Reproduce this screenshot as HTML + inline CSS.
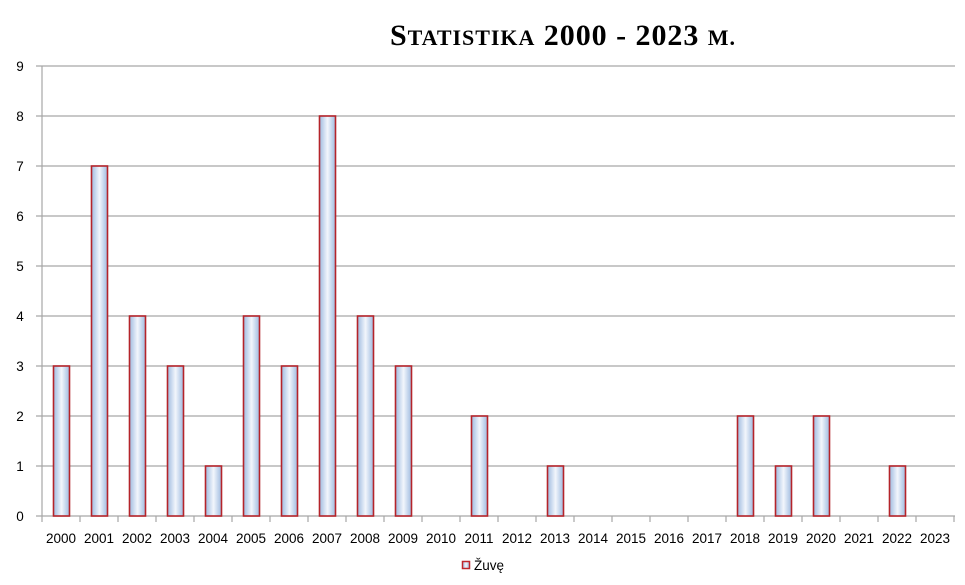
<!DOCTYPE html>
<html><head><meta charset="utf-8"><style>body{margin:0;background:#fff}svg{display:block}</style></head><body>
<svg width="965" height="585" xmlns="http://www.w3.org/2000/svg" font-family="Liberation Sans, sans-serif">
<defs>
<linearGradient id="g" x1="0" x2="1" y1="0" y2="0">
<stop offset="0" stop-color="#9fbbe0"/><stop offset="0.5" stop-color="#f2f6fc"/><stop offset="1" stop-color="#9fbbe0"/>
</linearGradient>
</defs>
<text x="390" y="45" font-family="Liberation Serif, serif" font-weight="bold" font-size="30" textLength="345" lengthAdjust="spacing">S<tspan font-size="22">TATISTIKA</tspan>  2000 - 2023 <tspan font-size="22">M.</tspan></text>
<g id="grid" stroke="#a6a6a6" stroke-width="1.2"></g>
<g id="bars"></g>
<g id="lbl" font-size="13.5" fill="#000"></g>
<rect x="462.5" y="561.5" width="7" height="7" fill="url(#g)" stroke="#c0272d" stroke-width="1.5"/>
<text x="474" y="570" font-size="13.5">Žuvę</text>
<script>
var ns="http://www.w3.org/2000/svg";
function el(p,t,a,txt){var e=document.createElementNS(ns,t);for(var k in a)e.setAttribute(k,a[k]);if(txt!==undefined)e.textContent=txt;document.getElementById(p).appendChild(e);}
for(var i=0;i<=9;i++){var y=516-i*50;el('grid','line',{x1:36,x2:955,y1:y,y2:y});el('lbl','text',{x:20,y:y+5,'text-anchor':'middle'},i);}
el('grid','line',{x1:42,x2:42,y1:66,y2:516});
for(var i=0;i<=24;i++){var x=42+i*38;el('grid','line',{x1:x,x2:x,y1:516,y2:522});}
var v=[3,7,4,3,1,4,3,8,4,3,0,2,0,1,0,0,0,0,2,1,2,0,1,0];
for(var i=0;i<24;i++){var x0=42+i*38;el('lbl','text',{x:x0+19,y:543,'text-anchor':'middle'},2000+i);
if(v[i]>0){var h=v[i]*50;el('bars','rect',{x:x0+11.5,y:516-h,width:16,height:h,fill:'url(#g)',stroke:'#b5242a','stroke-width':1.6});}}
</script>
</svg>
</body></html>
